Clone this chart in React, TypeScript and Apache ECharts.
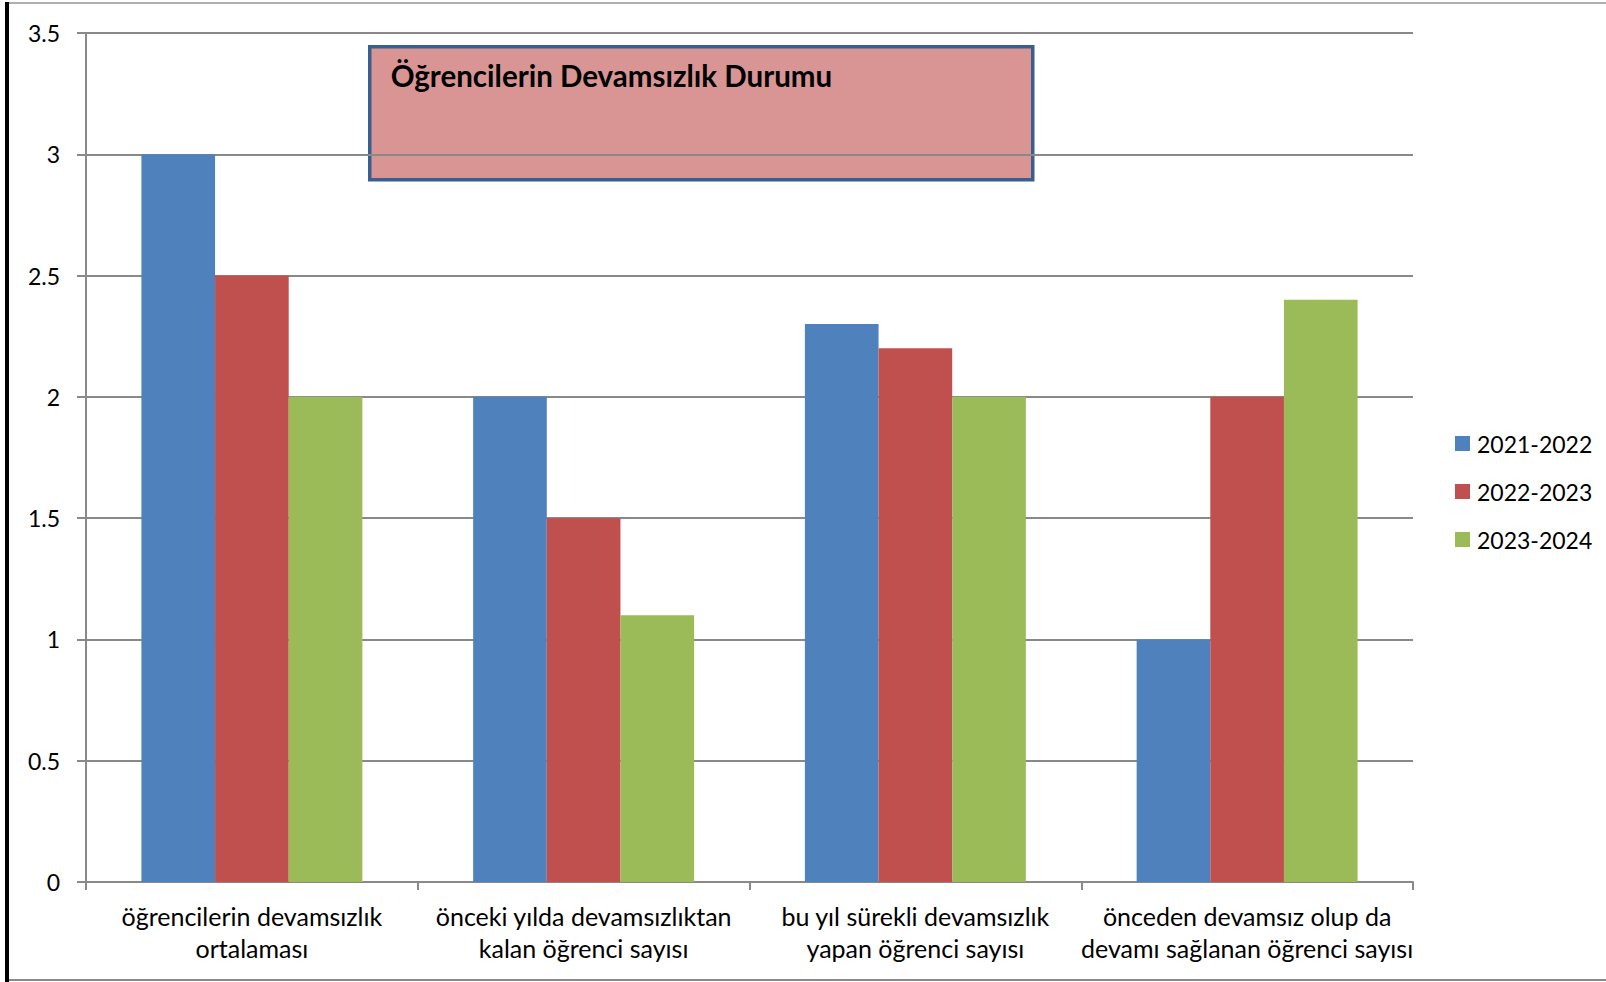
import React, { useEffect, useRef } from "react";
import * as echarts from "echarts";

const categories = [
  "öğrencilerin devamsızlık\nortalaması",
  "önceki yılda devamsızlıktan\nkalan öğrenci sayısı",
  "bu yıl sürekli devamsızlık\nyapan öğrenci sayısı",
  "önceden devamsız olup da\ndevamı sağlanan öğrenci sayısı",
];
const seriesNames = ["2021-2022", "2022-2023", "2023-2024"];
const values2021 = [3, 2, 2.3, 1];
const values2022 = [2.5, 1.5, 2.2, 2];
const values2023 = [2, 1.1, 2, 2.4];
const colors = ["#4f81bd", "#c0504d", "#9bbb59"];
const titleText = "Öğrencilerin Devamsızlık Durumu";

const FONT = "Lato, 'Open Sans', sans-serif";

export default function App() {
  const ref = useRef<HTMLDivElement>(null);
  useEffect(() => {
    if (!ref.current) return;
    const chart = echarts.init(ref.current, null, { renderer: "svg" });
    const data = [values2021, values2022, values2023];
    chart.setOption({
      animation: false,
      backgroundColor: "#ffffff",
      textStyle: { fontFamily: FONT },
      grid: { left: 86, top: 33, right: 193, bottom: 100, containLabel: false },
      legend: {
        orient: "vertical",
        left: 1450,
        top: 427,
        itemWidth: 15,
        itemHeight: 15,
        itemGap: 25,
        icon: "rect",
        data: seriesNames,
        textStyle: { fontSize: 23, color: "#000", fontFamily: FONT, padding: [0, 0, 0, 2] },
      },
      xAxis: {
        type: "category",
        data: categories,
        axisLine: { lineStyle: { color: "#898989", width: 2 } },
        axisTick: { show: true, length: 8, lineStyle: { color: "#898989", width: 2 } },
        axisLabel: {
          color: "#000",
          fontSize: 25,
          lineHeight: 32,
          margin: 18,
          interval: 0,
          fontFamily: FONT,
        },
      },
      yAxis: {
        type: "value",
        min: 0,
        max: 3.5,
        interval: 0.5,
        axisLine: { show: true, lineStyle: { color: "#898989", width: 2 } },
        axisTick: { show: true, length: 9, lineStyle: { color: "#898989", width: 2 } },
        splitLine: { show: true, lineStyle: { color: "#898989", width: 2 } },
        axisLabel: { color: "#000", fontSize: 23, margin: 26, fontFamily: FONT },
      },
      series: seriesNames.map((name, i) => ({
        name,
        type: "bar",
        data: data[i],
        barGap: "0%",
        barCategoryGap: "33.4%",
        itemStyle: { color: colors[i] },
      })),
      graphic: [
        { type: "rect", left: 5, top: 2, shape: { width: 1601, height: 2 }, style: { fill: "#b0b0b0" }, silent: true },
        { type: "rect", left: 5, top: 979, shape: { width: 1601, height: 2 }, style: { fill: "#8a8a8a" }, silent: true },
        { type: "rect", left: 5, top: 2, shape: { width: 4, height: 980 }, style: { fill: "#000" }, silent: true },
        {
          type: "group",
          left: 368,
          top: 45,
          children: [
            {
              type: "rect",
              shape: { x: 0, y: 0, width: 663, height: 133 },
              style: { fill: "#d99594", stroke: "#3a5f8e", lineWidth: 3.5 },
            },
            {
              type: "text",
              x: 21,
              y: 14,
              style: {
                text: titleText,
                fill: "#000",
                font: `bold 29.5px ${FONT}`,
              },
            },
          ],
        },
      ],
    });
    return () => chart.dispose();
  }, []);
  return (
    <div
      ref={ref}
      style={{ position: "fixed", left: 0, top: 0, width: 1606, height: 982 }}
    />
  );
}
